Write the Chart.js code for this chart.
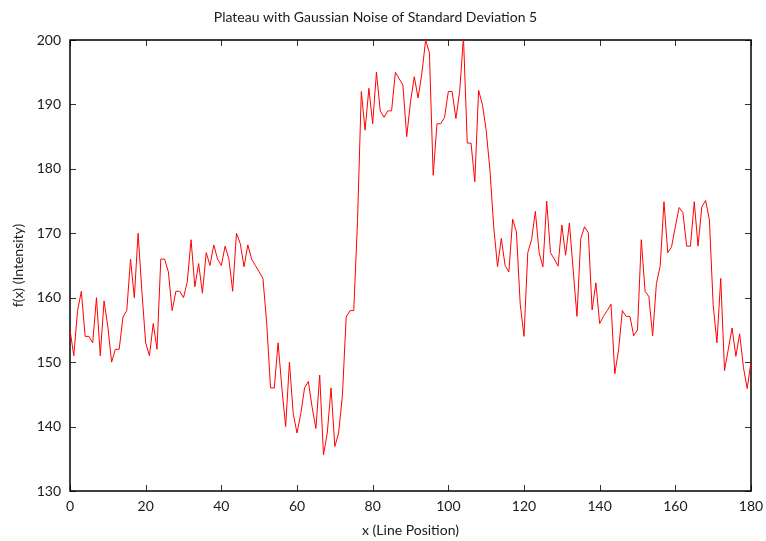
<!DOCTYPE html>
<html>
<head>
<meta charset="utf-8">
<title>Plateau with Gaussian Noise</title>
<script src="https://cdn.jsdelivr.net/npm/chart.js@4"></script>
<style>
    body { margin: 0; background: #fff; }
    canvas { display: block; }
</style>
</head>
<body>
<canvas id="plateauChart" width="766" height="541"></canvas>
<script>
// Data
const intensity = [
    155, 151, 158, 161, 154, 154, 153, 160, 151, 159.5,
    155.5, 150, 152, 152, 157, 158, 166, 160, 170, 161,
    153, 151, 156, 152, 166, 166, 164, 158, 161, 161,
    160, 162.5, 169, 161.7, 165.3, 160.7, 167, 165, 168.2, 166,
    165, 168, 166, 161, 170, 168.4, 164.8, 168.2, 166, 165,
    164, 163, 156, 146, 146, 153, 146, 140, 150, 142,
    139, 142, 146, 147, 143, 139.7, 148, 135.6, 139, 146,
    136.9, 139, 144.8, 157, 158, 158, 172, 192, 186, 192.5,
    187, 195, 189, 188, 189, 189, 195, 194, 193, 185,
    190.4, 194.3, 191, 194.8, 200, 198, 179, 187, 187, 188,
    192, 192, 187.8, 192, 200.5, 184, 184, 178, 192.2, 190,
    186, 179.8, 171, 164.8, 169.2, 165, 164, 172.2, 170.2, 159,
    154, 167, 169, 173.4, 167, 164.8, 175, 167, 166, 164.9,
    171.3, 166.6, 171.6, 164.3, 157.1, 169.2, 171, 170.1, 158.1, 162.3,
    156, 157.1, 158, 159, 148.2, 151.9, 158, 157.1, 157.1, 154.1,
    155, 169, 161, 160.2, 154.1, 162.2, 164.9, 174.9, 167, 167.9,
    171, 174, 173.2, 168, 168, 174.9, 168, 174.1, 175.1, 172.1,
    158.9, 153, 163, 148.7, 152, 155.3, 150.9, 154.4, 149.2, 145.9,
    150.1
];
const xRange = [0, 180];
const yRange = [130, 200];
const xStep = 20;
const yStep = 10;

const textColor = '#1a1a1a';
const fontFamily = 'Lato, "Open Sans", sans-serif';

// Frame and inward ticks on all four sides
const frameTicks = {
    id: 'frameTicks',
    beforeDatasetsDraw(chart) {
        const { ctx, chartArea: a, scales: { x, y } } = chart;
        ctx.save();
        ctx.strokeStyle = '#333';
        ctx.lineWidth = 1;
        ctx.beginPath();
        x.ticks.forEach(t => {
            const px = Math.round(x.getPixelForValue(t.value)) + 0.5;
            ctx.moveTo(px, a.bottom);
            ctx.lineTo(px, a.bottom - 6);
            ctx.moveTo(px, a.top);
            ctx.lineTo(px, a.top + 6);
        });
        y.ticks.forEach(t => {
            const py = Math.round(y.getPixelForValue(t.value)) + 0.5;
            ctx.moveTo(a.left, py);
            ctx.lineTo(a.left + 6, py);
            ctx.moveTo(a.right, py);
            ctx.lineTo(a.right - 6, py);
        });
        ctx.stroke();
        ctx.strokeStyle = '#000';
        ctx.lineWidth = 1.5;
        ctx.strokeRect(a.left, a.top, a.right - a.left, a.bottom - a.top);
        ctx.restore();
    }
};

const ctx = document.getElementById('plateauChart').getContext('2d');
new Chart(ctx, {
    type: 'line',
    data: {
        datasets: [{
            data: intensity.map((v, i) => ({ x: i, y: v })),
            borderColor: '#ff0000',
            borderWidth: 1,
            pointRadius: 0,
            tension: 0,
            fill: false
        }]
    },
    options: {
        responsive: false,
        devicePixelRatio: 1,
        animation: false,
        layout: { padding: { right: 15 } },
        plugins: {
            legend: { display: false },
            tooltip: { enabled: false },
            title: {
                display: true,
                text: 'Plateau with Gaussian Noise of Standard Deviation 5',
                color: textColor,
                font: { family: fontFamily, size: 14, weight: 'normal' },
                padding: { top: 8.6, bottom: 14.6 }
            }
        },
        scales: {
            x: {
                type: 'linear',
                min: xRange[0],
                max: xRange[1],
                grid: { display: false, drawTicks: false },
                border: { display: false },
                ticks: {
                    stepSize: xStep,
                    padding: 7,
                    maxRotation: 0,
                    color: textColor,
                    font: { family: fontFamily, size: 14 }
                },
                title: {
                    display: true,
                    text: 'x (Line Position)',
                    color: textColor,
                    font: { family: fontFamily, size: 14 },
                    padding: { top: 0, bottom: 2.6 }
                },
                afterFit: s => {
                    s.height = 50;
                    s.paddingLeft = 0;
                    s.paddingRight = 0;
                }
            },
            y: {
                min: yRange[0],
                max: yRange[1],
                grid: { display: false, drawTicks: false },
                border: { display: false },
                ticks: {
                    stepSize: yStep,
                    padding: 9,
                    color: textColor,
                    font: { family: fontFamily, size: 14 }
                },
                title: {
                    display: true,
                    text: 'f(x) (Intensity)',
                    color: textColor,
                    font: { family: fontFamily, size: 14 },
                    padding: { top: 9.6, bottom: 0 }
                },
                afterFit: s => {
                    s.width = 70;
                    s.paddingTop = 0;
                    s.paddingBottom = 0;
                }
            }
        }
    },
    plugins: [frameTicks]
});
</script>
</body>
</html>
